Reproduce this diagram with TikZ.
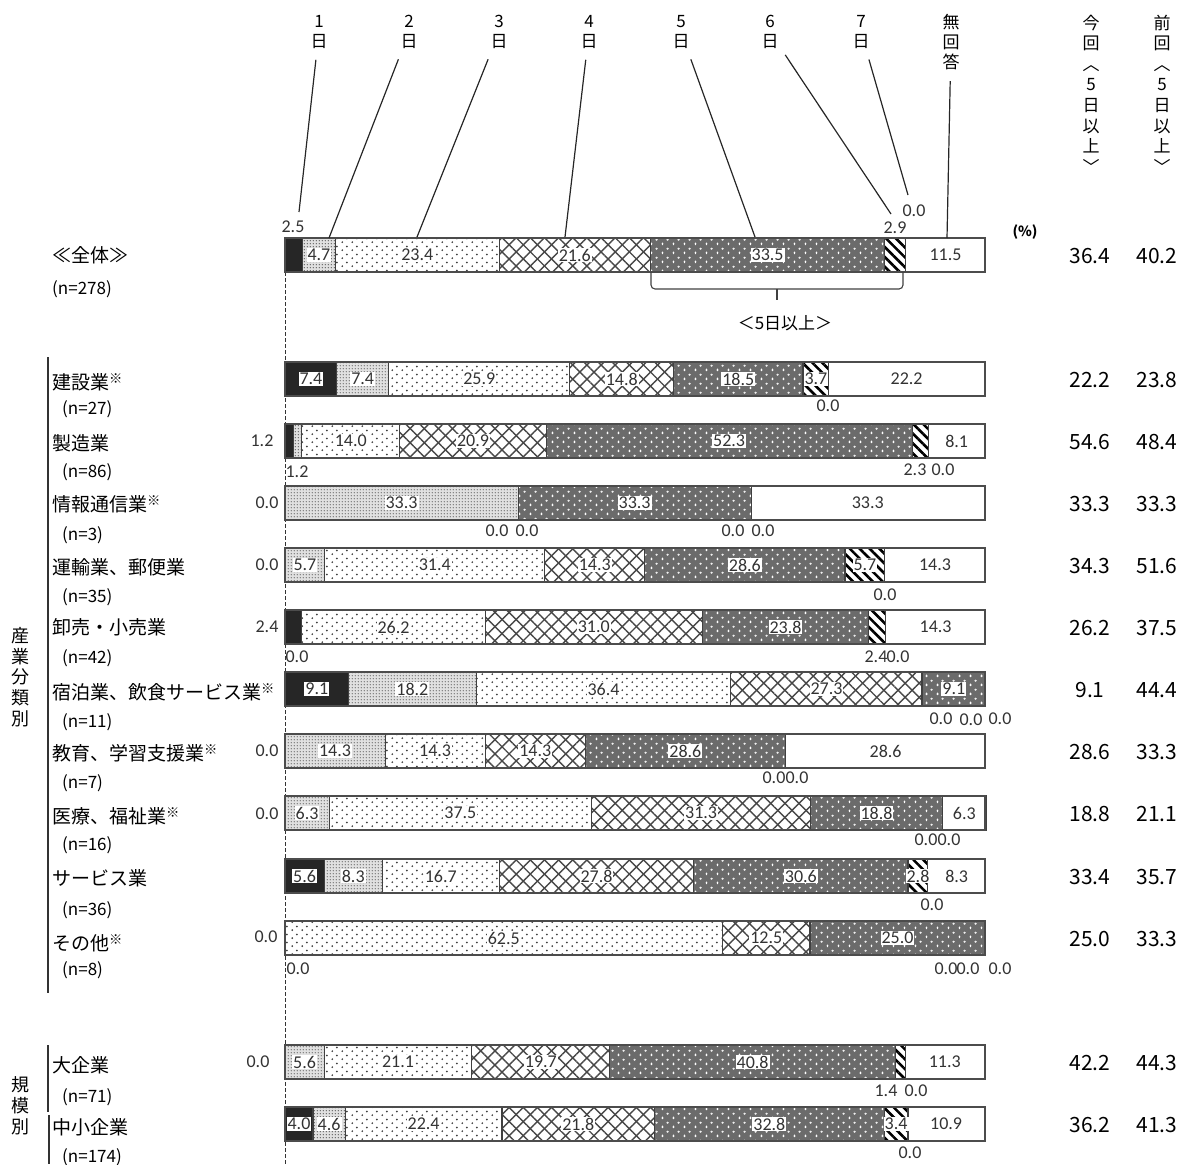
\documentclass[tikz,border=0pt]{standalone}
\usepackage{fontspec}
\setmainfont{Carlito}
\newfontfamily\jp{Noto Sans CJK JP}
\usetikzlibrary{patterns.meta}

\tikzdeclarepattern{
  name=sparsedots, type=uncolored,
  bounding box={(0pt,0pt) and (10pt,8pt)},
  tile size={(10pt,8pt)},
  code={\fill (2.5pt,2pt) circle (1.05pt); \fill (7.5pt,6pt) circle (1.05pt);}
}
\tikzdeclarepattern{
  name=finedots, type=uncolored,
  bounding box={(0pt,0pt) and (3.2pt,3.2pt)},
  tile size={(3.2pt,3.2pt)},
  code={\fill (1.6pt,1.6pt) circle (0.8pt);}
}
\tikzdeclarepattern{
  name=plusses, type=uncolored,
  bounding box={(0pt,0pt) and (11pt,9pt)},
  tile size={(11pt,9pt)},
  code={\draw[line width=0.7pt] (1.45pt,2.25pt) -- (4.05pt,2.25pt) (2.75pt,0.95pt) -- (2.75pt,3.55pt)
        (6.95pt,6.75pt) -- (9.55pt,6.75pt) (8.25pt,5.45pt) -- (8.25pt,8.05pt);}
}

\tikzset{
  seg1/.style={fill=black!85},
  seg2/.style={fill=black!12, postaction={pattern=finedots, pattern color=black!60}},
  seg3/.style={fill=white, postaction={pattern=sparsedots, pattern color=black!75}},
  seg4/.style={fill=white,
    postaction={pattern={Lines[angle=45,distance=10pt,line width=1.4pt]}, pattern color=black!72},
    postaction={pattern={Lines[angle=-45,distance=10pt,line width=1.4pt]}, pattern color=black!72}},
  seg5/.style={fill=black!58, postaction={pattern=plusses, pattern color=white}},
  seg6/.style={fill=white, postaction={pattern={Lines[angle=-45,distance=7pt,line width=2.6pt]}, pattern color=black}},
  seg7/.style={fill=white},
  seg8/.style={fill=white},
  segline/.style={draw=black!75, line width=1.1pt},
  barframe/.style={draw=black!70, line width=1.6pt},
  vlab/.style={fill=white, inner sep=1pt, text=black!80, font=\fontsize{18}{18}\selectfont},
  olab/.style={inner sep=1pt, text=black!80, font=\fontsize{18}{18}\selectfont},
  head/.style={align=center, inner sep=1pt, font=\jp\fontsize{17}{20}\selectfont},
  rowname/.style={anchor=west, inner sep=0pt, font=\jp\fontsize{19}{19}\selectfont},
  rown/.style={anchor=west, inner sep=0pt, font=\jp\fontsize{17}{17}\selectfont},
  pct/.style={font=\jp\fontsize{21}{21}\selectfont},
  leader/.style={draw=black!85, line width=1.2pt, shorten <=10pt},
  grp/.style={draw=black!80, line width=1.5pt},
  brace/.style={draw=black!75, line width=1.1pt},
  zeroline/.style={draw=black!80, line width=1pt, dash pattern=on 4pt off 2pt},
}

\begin{document}
\begin{tikzpicture}[x=1pt,y=-1pt]
\useasboundingbox (0,0) rectangle (1190,1164);

% column heads
\foreach \x/\t [count=\i] in {319/1,409/2,499/3,589/4,681/5,770/6,861/7} {
  \node[head] (d\i) at (\x,32) {\t\\日};
}
\node[head] (d8) at (951,42) {無\\回\\答};
\node[head, font=\jp\fontsize{17}{20.6}\selectfont] (now) at (1091,94) {今\\回\\︿\\5\\日\\以\\上\\﹀};
\node[head, font=\jp\fontsize{17}{20.6}\selectfont] (old) at (1162,94) {前\\回\\︿\\5\\日\\以\\上\\﹀};
\node[font=\jp\bfseries\fontsize{14}{14}\selectfont] (unit) at (1025,232) {(\%)};

% zero line
\coordinate (Z1) at (285,272);
\coordinate (Z2) at (285,1164);
\draw[zeroline] (Z1) -- (Z2);

% bars
\foreach \yb/\yn/\yc/\xn/\nm/\nn/\vals/\pnow/\pold [count=\rw] in {
  255/255/289/52/{≪全体≫}/{(n=278)}/{2.5,4.7,23.4,21.6,33.5,2.9,0.0,11.5}/36.4/40.2,
  379/382/409/62/{建設業\textsuperscript{※}}/{(n=27)}/{7.4,7.4,25.9,14.8,18.5,3.7,0.0,22.2}/22.2/23.8,
  441/443/472/62/{製造業}/{(n=86)}/{1.2,1.2,14.0,20.9,52.3,2.3,0.0,8.1}/54.6/48.4,
  503/504/535/62/{情報通信業\textsuperscript{※}}/{(n=3)}/{0.0,33.3,0.0,0.0,33.3,0.0,0.0,33.3}/33.3/33.3,
  565/567/597/62/{運輸業、郵便業}/{(n=35)}/{0.0,5.7,31.4,14.3,28.6,5.7,0.0,14.3}/34.3/51.6,
  627/627/658/62/{卸売・小売業}/{(n=42)}/{2.4,0.0,26.2,31.0,23.8,2.4,0.0,14.3}/26.2/37.5,
  689/692/722/62/{宿泊業、飲食サービス業\textsuperscript{※}}/{(n=11)}/{9.1,18.2,36.4,27.3,9.1,0.0,0.0,0.0}/9.1/44.4,
  751/753/783/62/{教育、学習支援業\textsuperscript{※}}/{(n=7)}/{0.0,14.3,14.3,14.3,28.6,0.0,0.0,28.6}/28.6/33.3,
  813/816/845/62/{医療、福祉業\textsuperscript{※}}/{(n=16)}/{0.0,6.3,37.5,31.3,18.8,0.0,0.0,6.3}/18.8/21.1,
  876/878/910/62/{サービス業}/{(n=36)}/{5.6,8.3,16.7,27.8,30.6,2.8,0.0,8.3}/33.4/35.7,
  938/943/970/62/{その他\textsuperscript{※}}/{(n=8)}/{0.0,0.0,62.5,12.5,25.0,0.0,0.0,0.0}/25.0/33.3,
  1062/1065/1097/62/{大企業}/{(n=71)}/{0.0,5.6,21.1,19.7,40.8,1.4,0.0,11.3}/42.2/44.3,
  1124/1127/1157/62/{中小企業}/{(n=174)}/{4.0,4.6,22.4,21.8,32.8,3.4,0.0,10.9}/36.2/41.3
} {
  \node[rowname] (n\rw) at (52,\yn) {\nm};
  \node[rown] (c\rw) at (\xn,\yc) {\nn};
  \gdef\cum{0}
  \foreach \val [count=\sg] in \vals {
    \pgfmathsetmacro\xa{285+7*\cum}
    \pgfmathsetmacro\xb{285+7*(\cum+\val)}
    \ifdim\val pt>0pt
      \fill[seg\sg] (\xa,\yb-17) rectangle (\xb,\yb+17);
      \draw[segline] (\xa,\yb-17) rectangle (\xb,\yb+17);
    \fi
    \pgfmathsetmacro\ncum{\cum+\val}
    \xdef\cum{\ncum}
  }
  \draw[barframe] (285,\yb-17) rectangle (985,\yb+17);
  \gdef\cum{0}
  \foreach \val [count=\sg] in \vals {
    \pgfmathsetmacro\xm{285+7*(\cum+\val/2)}
    \ifdim\val pt<3pt\else
      \node[vlab] (v\rw-\sg) at (\xm,\yb) {\val};
    \fi
    \pgfmathsetmacro\ncum{\cum+\val}
    \xdef\cum{\ncum}
  }
  \node[pct] (p\rw) at (1090,\yb+1) {\pnow};
  \node[pct] (q\rw) at (1157,\yb+1) {\pold};
}
\node[vlab] (v10-6) at (918,876) {2.8};

% small values outside the bars
\foreach \x/\y/\t [count=\k] in {
  293/227/2.5, 895/228/2.9, 914/211/0.0,
  828/406/0.0,
  262/441/1.2, 297/472/1.2, 915/470/2.3, 943/470/0.0,
  267/503/0.0, 497/531/0.0, 527/531/0.0, 733/531/0.0, 763/531/0.0,
  267/565/0.0, 885/595/0.0,
  267/627/2.4, 297/657/0.0, 876/657/2.4, 898/657/0.0,
  941/719/0.0, 971/720/0.0, 1000/719/0.0,
  267/751/0.0, 774/778/0.0, 797/778/0.0,
  267/814/0.0, 926/840/0.0, 949/840/0.0,
  932/905/0.0,
  266/937/0.0, 298/969/0.0, 946/969/0.0, 968/969/0.0, 1000/969/0.0,
  258/1062/0.0, 886/1091/1.4, 916/1091/0.0,
  910/1153/0.0
} {
  \node[olab] (o\k) at (\x,\y) {\t};
}

% leader lines
\coordinate (e1) at (299,212);
\coordinate (e2) at (329,238);
\coordinate (e3) at (417,237);
\coordinate (e4) at (565,237);
\coordinate (e5) at (755,237);
\coordinate (e6) at (891,214);
\coordinate (e7) at (908,195);
\coordinate (e8) at (947,238);
\foreach \i in {1,...,8} \draw[leader] (d\i) -- (e\i);

% brace under 5-7 days
\coordinate (B1) at (651,272);
\coordinate (B2) at (903,272);
\coordinate (B3) at (777,289);
\coordinate (B4) at (777,300);
\draw[brace, rounded corners=4pt] (B1) -- (651,289) -- (903,289) -- (B2);
\draw[brace] (B3) -- (B4);
\node[font=\jp\fontsize{17}{17}\selectfont] (five) at (785,323) {＜5日以上＞};

% group labels
\node[head, font=\jp\fontsize{18}{20.7}\selectfont] (ind) at (20,677) {産\\業\\分\\類\\別};
\node[head, font=\jp\fontsize{18}{21}\selectfont] (size) at (20,1106) {規\\模\\別};
\coordinate (G1) at (48,357);
\coordinate (G2) at (48,993);
\coordinate (G3) at (48,1045);
\coordinate (G4) at (48,1112);
\coordinate (G5) at (49,1115);
\coordinate (G6) at (49,1164);
\draw[grp] (G1) -- (G2);
\draw[grp] (G3) -- (G4);
\draw[grp] (G5) -- (G6);
\end{tikzpicture}
\end{document}
